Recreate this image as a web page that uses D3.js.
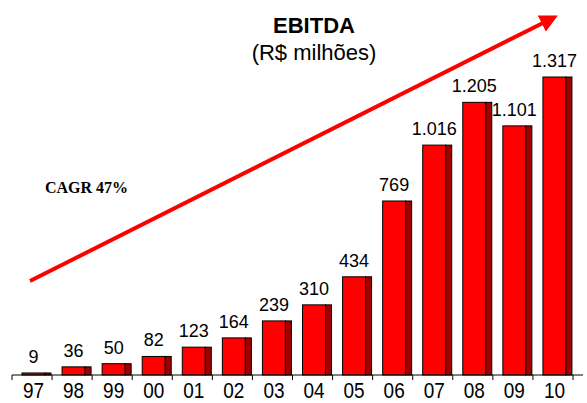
<!DOCTYPE html>
<html><head><meta charset="utf-8">
<script src="https://cdn.jsdelivr.net/npm/d3@7"></script>
<style>body{margin:0;background:#fff}svg{display:block}</style>
</head><body>
<script>
const categories = ["97","98","99","00","01","02","03","04","05","06","07","08","09","10"];
const values = [9,36,50,82,123,164,239,310,434,769,1016,1205,1101,1317];
const valueLabels = ["9","36","50","82","123","164","239","310","434","769","1.016","1.205","1.101","1.317"];
const title = "EBITDA";
const subtitle = "(R$ milhões)";
const note = "CAGR 47%";

const W = 587, H = 403;
const svg = d3.select("body").append("svg").attr("width", W).attr("height", H);

const x = d3.scaleBand().domain(categories).range([12, 573]).paddingInner(0).paddingOuter(0);
const y = d3.scaleLinear().domain([0, 1317]).range([375, 77]);

const bw = x.bandwidth();
const off = 10, front = 23, side = 6;
const font = "Liberation Sans, Arial, sans-serif";

// bars
const g = svg.append("g");
categories.forEach((c, i) => {
  const x0 = x(c) + off;
  const top = y(values[i]);
  const h = y(0) - top;
  g.append("rect").attr("x", x0).attr("y", top).attr("width", front).attr("height", h)
    .attr("fill", "#ff0000").attr("stroke", "#000").attr("stroke-width", 1);
  g.append("rect").attr("x", x0 + front).attr("y", top).attr("width", side).attr("height", h)
    .attr("fill", "#a00000").attr("stroke", "#000").attr("stroke-width", 1);
  svg.append("text").attr("x", x0 + front / 2).attr("y", top - 10)
    .attr("text-anchor", "middle").attr("font-family", font)
    .attr("font-size", 18).attr("fill", "#000").text(valueLabels[i]);
});

// axis
const axis = d3.axisBottom(x).tickSize(0).tickPadding(0);
const ax = svg.append("g").attr("transform", `translate(0,${y(0)})`).call(axis);
ax.select(".domain").remove();
ax.selectAll("text").attr("font-family", font).attr("font-size", 19).attr("fill", "#000")
  .attr("y", 0).attr("dy", 0)
  .attr("transform", `translate(${off + front / 2 - bw / 2},22.5) scale(1,1.2)`);
svg.append("line").attr("x1", 12).attr("x2", 583).attr("y1", y(0)).attr("y2", y(0))
  .attr("stroke", "#000").attr("stroke-width", 1);
const tickPos = categories.map(c => x(c)).concat([x(categories[categories.length - 1]) + bw]);
tickPos.forEach(t => {
  svg.append("line").attr("x1", t).attr("x2", t).attr("y1", y(0)).attr("y2", y(0) + 5)
    .attr("stroke", "#000").attr("stroke-width", 1);
});

// title
svg.append("text").attr("x", 314).attr("y", 33).attr("text-anchor", "middle")
  .attr("font-family", font).attr("font-weight", "bold")
  .attr("font-size", 22).text(title);
svg.append("text").attr("x", 314).attr("y", 60).attr("text-anchor", "middle")
  .attr("font-family", font).attr("font-size", 22).text(subtitle);

// CAGR note
svg.append("text").attr("x", 45).attr("y", 193)
  .attr("font-family", "Liberation Serif, Times New Roman, serif").attr("font-weight", "bold")
  .attr("font-size", 16).text(note);

// arrow
const defs = svg.append("defs");
defs.append("marker").attr("id", "ah").attr("viewBox", "0 0 10 10").attr("refX", 2).attr("refY", 5)
  .attr("markerWidth", 4.5).attr("markerHeight", 4.5).attr("orient", "auto")
  .attr("markerUnits", "strokeWidth")
  .append("path").attr("d", "M0,0 L10,5 L0,10 Z").attr("fill", "#ff0000");
svg.append("line").attr("x1", 30).attr("y1", 281).attr("x2", 545).attr("y2", 22)
  .attr("stroke", "#ff0000").attr("stroke-width", 4).attr("marker-end", "url(#ah)");
</script>
</body></html>
